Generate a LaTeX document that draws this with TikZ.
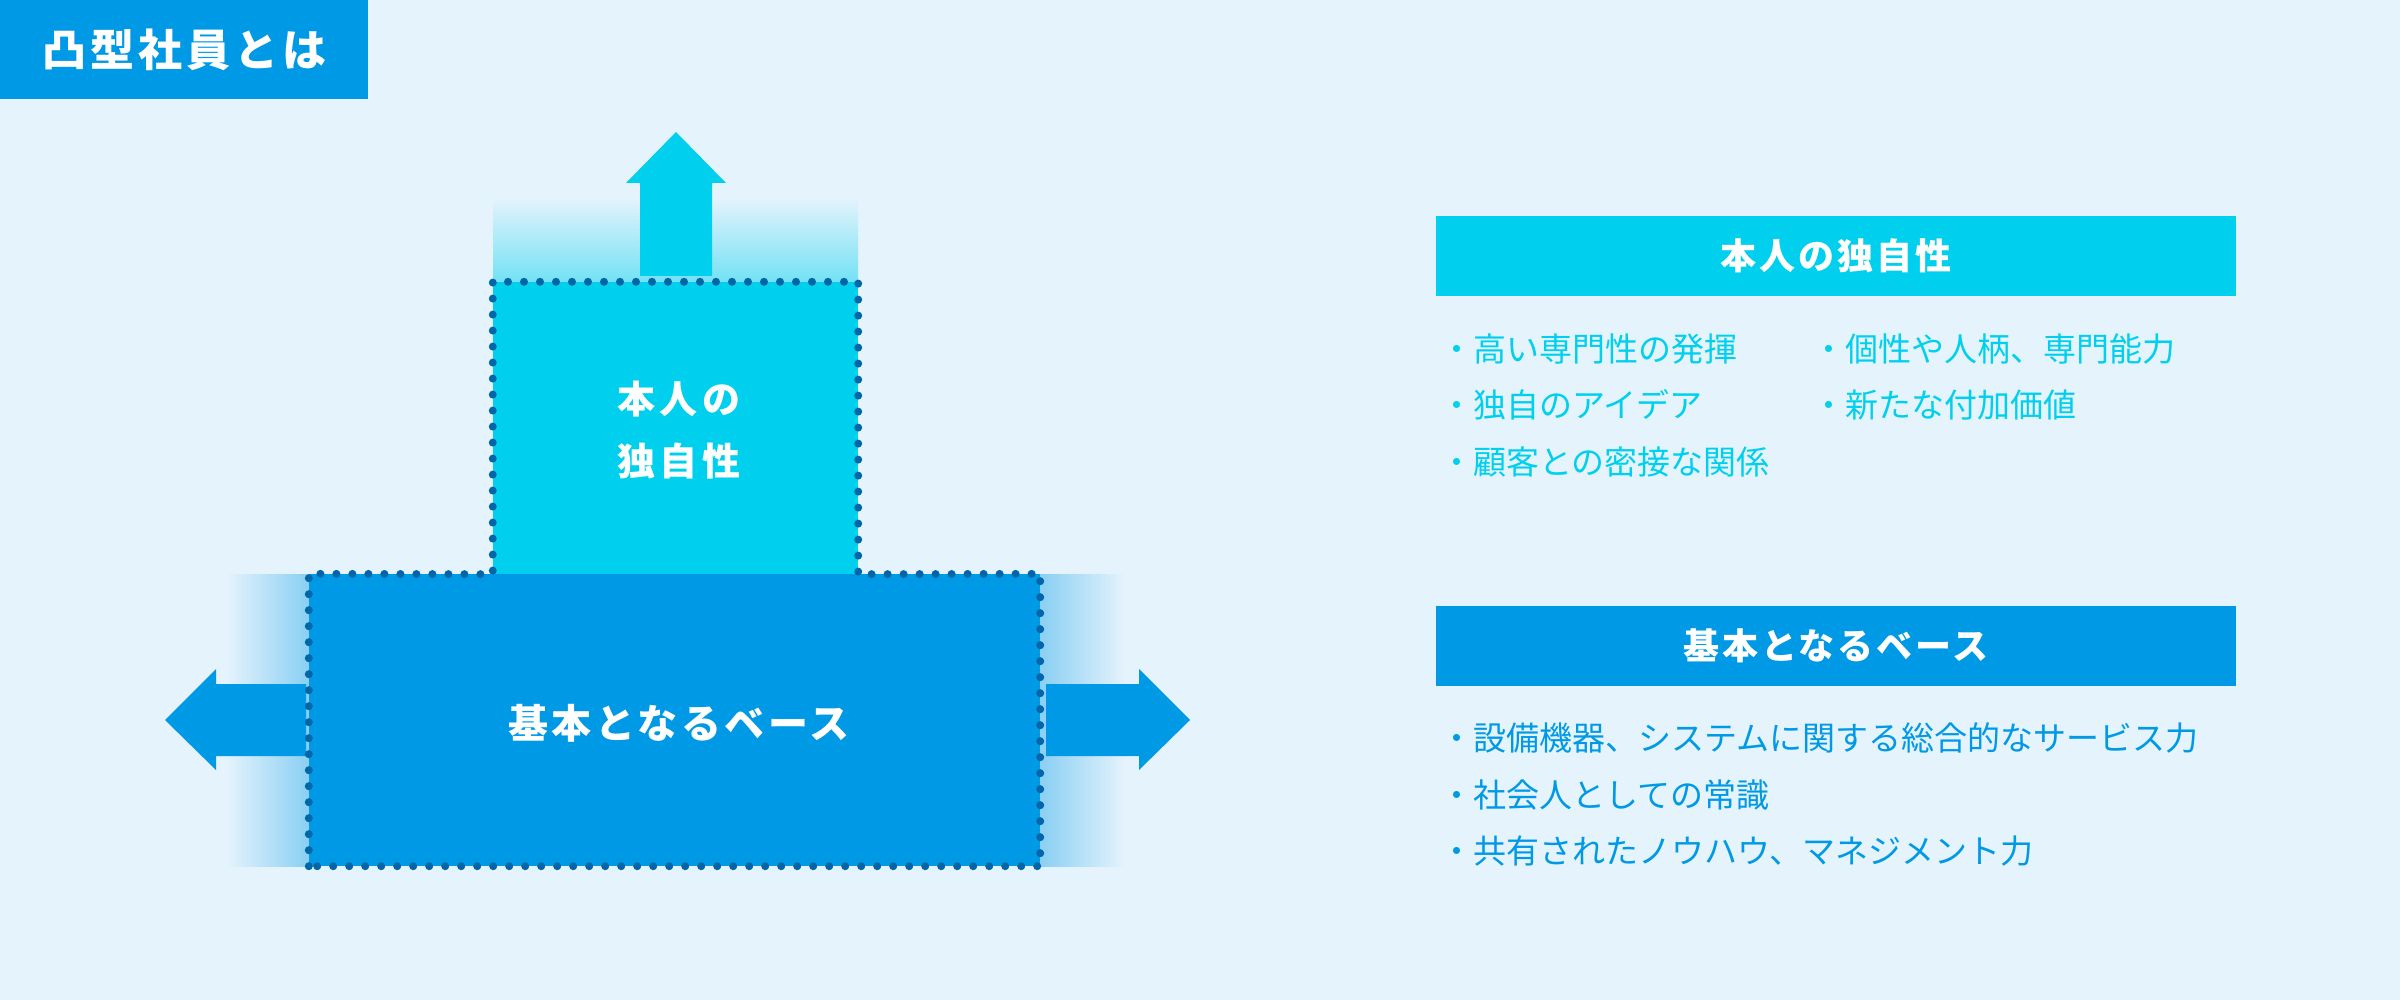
\documentclass[tikz,border=0pt]{standalone}
\usepackage{fontspec}
\setmainfont{Noto Sans CJK JP}
\usetikzlibrary{positioning}
\definecolor{bgc}{HTML}{E5F3FC}
\definecolor{uniqc}{HTML}{00D0EE}
\definecolor{basec}{HTML}{0099E6}
\definecolor{dotc}{HTML}{0066A8}
\tikzset {
    plate/.style = {inner sep=0pt, minimum width=#1},
    boxtext/.style = {text=white, align=center, font=\fontsize{38}{62}\selectfont\bfseries\addfontfeature{LetterSpace=12}},
    headbar/.style = {fill=#1, text=white, inner sep=0pt, minimum width=800pt, minimum height=80pt,
        font=\fontsize{36}{36}\selectfont\bfseries\addfontfeature{LetterSpace=8}},
    item/.style = {anchor=west, inner sep=0pt, text=#1, font=\fontsize{33}{33}\selectfont},
    dotline/.style = {dotc, line width=8pt, line cap=round, dash pattern=on 0pt off 16pt}
}

\begin{document}
\begin{tikzpicture}[x=1pt, y=-1pt]
	\useasboundingbox (0,0) rectangle (2400,1000);
	\fill[bgc] (0,0) rectangle (2400,1000);
	% title
	\node (title) [anchor=north west, fill=basec, text=white, inner sep=0pt, minimum width=368pt, minimum height=99pt,
	    font=\fontsize{44}{44}\selectfont\bfseries\addfontfeature{LetterSpace=9}] at (0,0) {凸型社員とは};
	% glow
	\shade[top color=bgc, bottom color=uniqc!50!bgc] (493,197) rectangle (858,282);
	\shade[left color=bgc, right color=basec!40!bgc] (226,574) rectangle (309,866);
	\shade[left color=basec!40!bgc, right color=bgc] (1040,574) rectangle (1125,866);
	% arrows
	\fill[uniqc] (640,276) -- (640,183) -- (626,183) -- (676,132) -- (726,183) -- (712,183) -- (712,276) -- cycle;
	\fill[basec] (306,684) -- (216,684) -- (216,669) -- (165,720) -- (216,770) -- (216,756) -- (306,756) -- cycle;
	\fill[basec] (1046,684) -- (1139,684) -- (1139,669) -- (1190,720) -- (1139,770) -- (1139,756) -- (1046,756) -- cycle;
	% boxes
	\node (top) [plate=365pt, minimum height=292pt, fill=uniqc] at (675.5,428) {};
	\node (base) [plate=731pt, minimum height=292pt, fill=basec] at (674.5,720) {};
	\draw[dotline] (base.south west) -- (base.north west) -- (top.south west) -- (top.north west)
	    -- (top.north east) -- (top.south east) -- (base.north east) -- (base.south east) -- cycle;
	\node (toplbl) [boxtext] at (679,430) {本人の\\独自性};
	\node (baselbl) [boxtext, font=\fontsize{40}{40}\selectfont\bfseries\addfontfeature{LetterSpace=9}] at (679,723) {基本となるベース};
	% right side
	\node (h1) [headbar=uniqc] at (1836,256) {本人の独自性};
	\node (h2) [headbar=basec] at (1836,646) {基本となるベース};
	\node (a1) [item=uniqc] at (1440,349) {・高い専門性の発揮};
	\node (a2) [item=uniqc] at (1440,405) {・独自のアイデア};
	\node (a3) [item=uniqc] at (1440,462) {・顧客との密接な関係};
	\node (a4) [item=uniqc] at (1812,349) {・個性や人柄、専門能力};
	\node (a5) [item=uniqc] at (1812,405) {・新たな付加価値};
	\node (b1) [item=basec] at (1440,738) {・設備機器、システムに関する総合的なサービス力};
	\node (b2) [item=basec] at (1440,795) {・社会人としての常識};
	\node (b3) [item=basec] at (1440,851) {・共有されたノウハウ、マネジメント力};
\end{tikzpicture}
\end{document}
